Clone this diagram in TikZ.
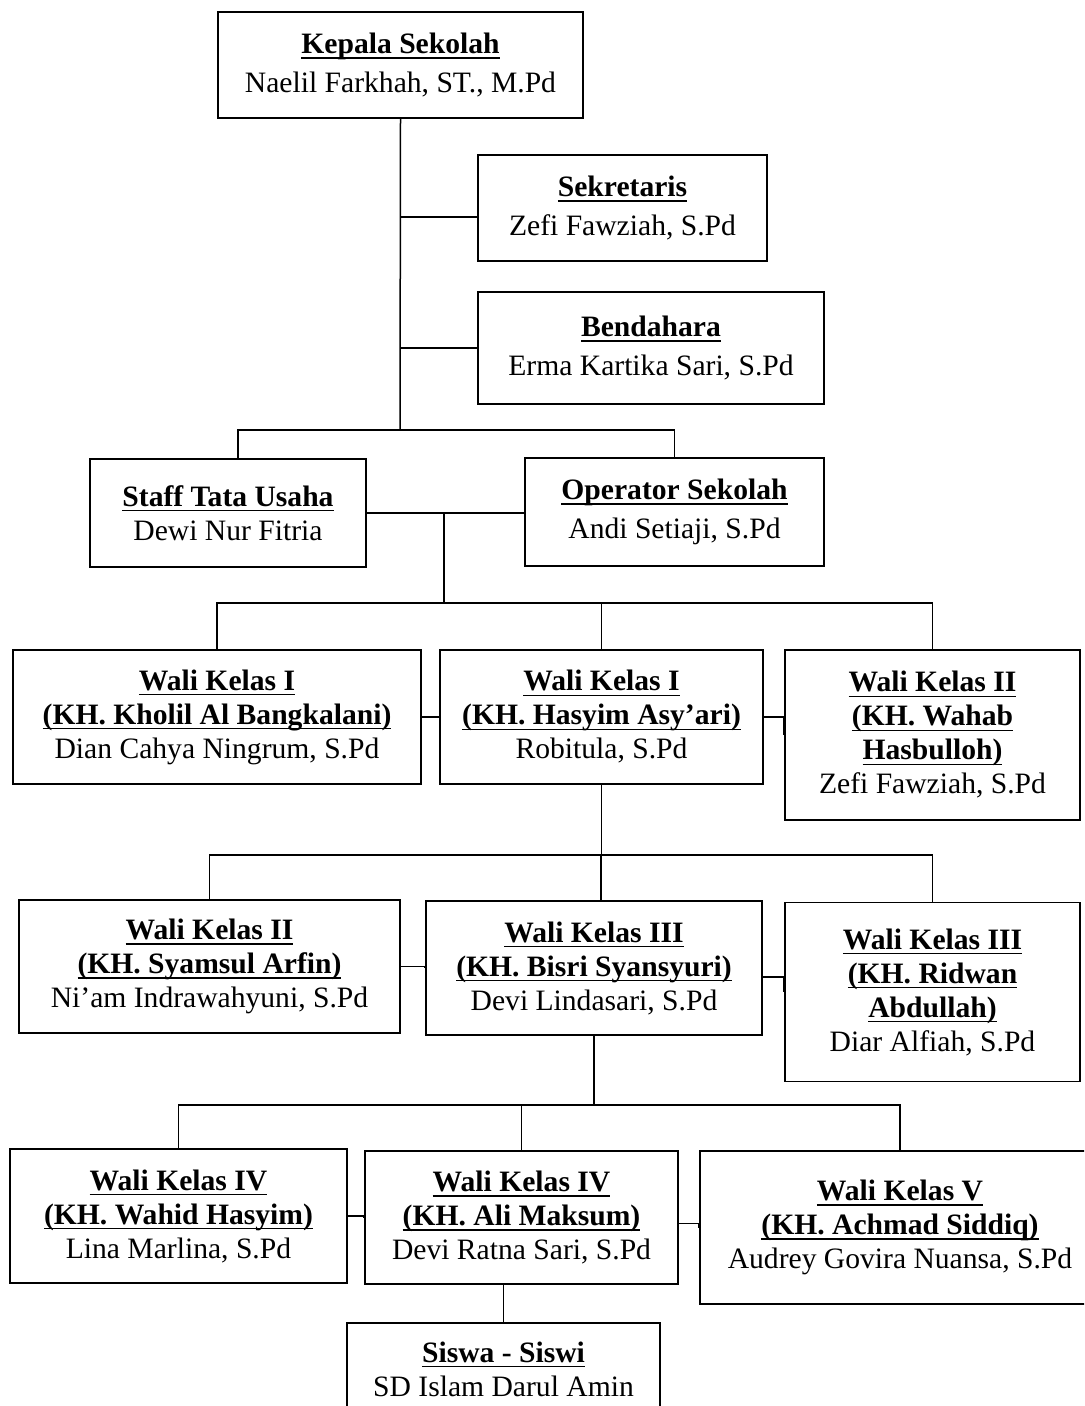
\documentclass[tikz,border=0pt]{standalone}
\usepackage{fontspec}
\setmainfont{Liberation Serif}
\newcommand{\judul}[1]{\setbox0\hbox{\bfseries #1}\rlap{\rule[-2.6pt]{\wd0}{0.8pt}}\box0}
\tikzset{
  kotak/.style={draw, line width=0.8pt, inner sep=0pt, align=center,
    font=\fontsize{14.8}{17}\selectfont},
  garis/.style={line width=0.75pt}
}

\begin{document}
\begin{tikzpicture}[x=0.5pt, y=-0.5pt]
            \clip (0,0) rectangle (1084,1406);

            \node[kotak, minimum width=182.5pt, minimum height=53pt] (kepala) at (400.5,65) {\judul{Kepala Sekolah}\\[2.5pt] Naelil Farkhah, ST., M.Pd};
            \node[kotak, minimum width=144.5pt, minimum height=53pt] (sek) at (622.5,208) {\judul{Sekretaris}\\[2.5pt] Zefi Fawziah, S.Pd};
            \node[kotak, minimum width=173pt, minimum height=56pt] (bend) at (651,348) {\judul{Bendahara}\\[2.5pt] Erma Kartika Sari, S.Pd};
            \node[kotak, minimum width=138pt, minimum height=54pt] (staff) at (228,513) {\judul{Staff Tata Usaha}\\ Dewi Nur Fitria};
            \node[kotak, minimum width=149.5pt, minimum height=54pt] (op) at (674.5,512) {\judul{Operator Sekolah}\\[2.5pt] Andi Setiaji, S.Pd};

            \node[kotak, minimum width=204pt, minimum height=67pt] (kholil) at (217,717) {\judul{Wali Kelas I}\\ \judul{(KH. Kholil Al Bangkalani)}\\ Dian Cahya Ningrum, S.Pd};
            \node[kotak, minimum width=161.5pt, minimum height=67pt] (hasyim) at (601.5,717) {\judul{Wali Kelas I}\\ \judul{(KH. Hasyim Asy’ari)}\\ Robitula, S.Pd};
            \node[kotak, minimum width=147.5pt, minimum height=85pt] (wahab) at (932.5,735) {\judul{Wali Kelas II}\\ \judul{(KH. Wahab}\\ \judul{Hasbulloh)}\\ Zefi Fawziah, S.Pd};

            \node[kotak, minimum width=190.5pt, minimum height=66.5pt] (syamsul) at (209.5,966.5) {\judul{Wali Kelas II}\\ \judul{(KH. Syamsul Arfin)}\\ Ni’am Indrawahyuni, S.Pd};
            \node[kotak, minimum width=168pt, minimum height=67pt] (bisri) at (594,968) {\judul{Wali Kelas III}\\ \judul{(KH. Bisri Syansyuri)}\\ Devi Lindasari, S.Pd};
            \node[kotak, minimum width=147.5pt, minimum height=89.5pt] (ridwan) at (932.5,992) {\judul{Wali Kelas III}\\ \judul{(KH. Ridwan}\\ \judul{Abdullah)}\\ Diar Alfiah, S.Pd};

            \node[kotak, minimum width=168.5pt, minimum height=67pt] (wahid) at (178.5,1216) {\judul{Wali Kelas IV}\\ \judul{(KH. Wahid Hasyim)}\\ Lina Marlina, S.Pd};
            \node[kotak, minimum width=156.5pt, minimum height=66.5pt] (ali) at (521.5,1217.5) {\judul{Wali Kelas IV}\\ \judul{(KH. Ali Maksum)}\\ Devi Ratna Sari, S.Pd};
            \node[kotak, minimum width=200pt, minimum height=76.5pt] (achmad) at (900,1227.5) {\judul{Wali Kelas V}\\ \judul{(KH. Achmad Siddiq)}\\ Audrey Govira Nuansa, S.Pd};
            \node[kotak, minimum width=156.5pt, minimum height=46pt] (siswa) at (503.5,1369) {\judul{Siswa - Siswi}\\ SD Islam Darul Amin};

            % garis ke kepala sekolah
            \coordinate (j1) at (400,430);
            \draw[garis] (kepala.south) -- (j1);
            \draw[garis] ([yshift=-4.5pt]sek.west) -| (kepala.south);
            \draw[garis] (bend.west) -| (kepala.south);
            \draw[garis] ([xshift=5pt]staff.north) |- (j1) -| (op.north);
            \draw[garis] (staff.east) -| (op.west);

            % wali kelas I dan II
            \coordinate (j2) at (444,603);
            \draw[garis] (j2 |- staff.east) -- (j2);
            \draw[garis] (kholil.north) |- (j2) -| (wahab.north);
            \draw[garis] (hasyim.north) -- (hasyim.north |- j2);
            \draw[garis] (kholil.east) -| (hasyim.west);
            \draw[garis] (hasyim.east) -| (wahab.west);

            % wali kelas II dan III
            \coordinate (j3) at (601,855);
            \draw[garis] (hasyim.south) -- (hasyim.south |- j3);
            \draw[garis] (syamsul.north) |- (j3) -| (ridwan.north);
            \draw[garis] (j3) -- (j3 |- bisri.north);
            \draw[garis] (syamsul.east) -| (bisri.west);
            \draw[garis] ([yshift=-4.5pt]bisri.east) -| (ridwan.west);

            % wali kelas IV dan V
            \coordinate (j4) at (593,1105);
            \draw[garis] (bisri.south) -- (bisri.south |- j4);
            \draw[garis] (wahid.north) |- (j4) -| (achmad.north);
            \draw[garis] (ali.north |- j4) -- (ali.north);
            \draw[garis] (wahid.east) -| (ali.west);
            \draw[garis] ([yshift=-3pt]ali.east) -| (achmad.west);
            \draw[garis] (siswa.north) -- (siswa.north |- ali.south);
        \end{tikzpicture}
\end{document}
